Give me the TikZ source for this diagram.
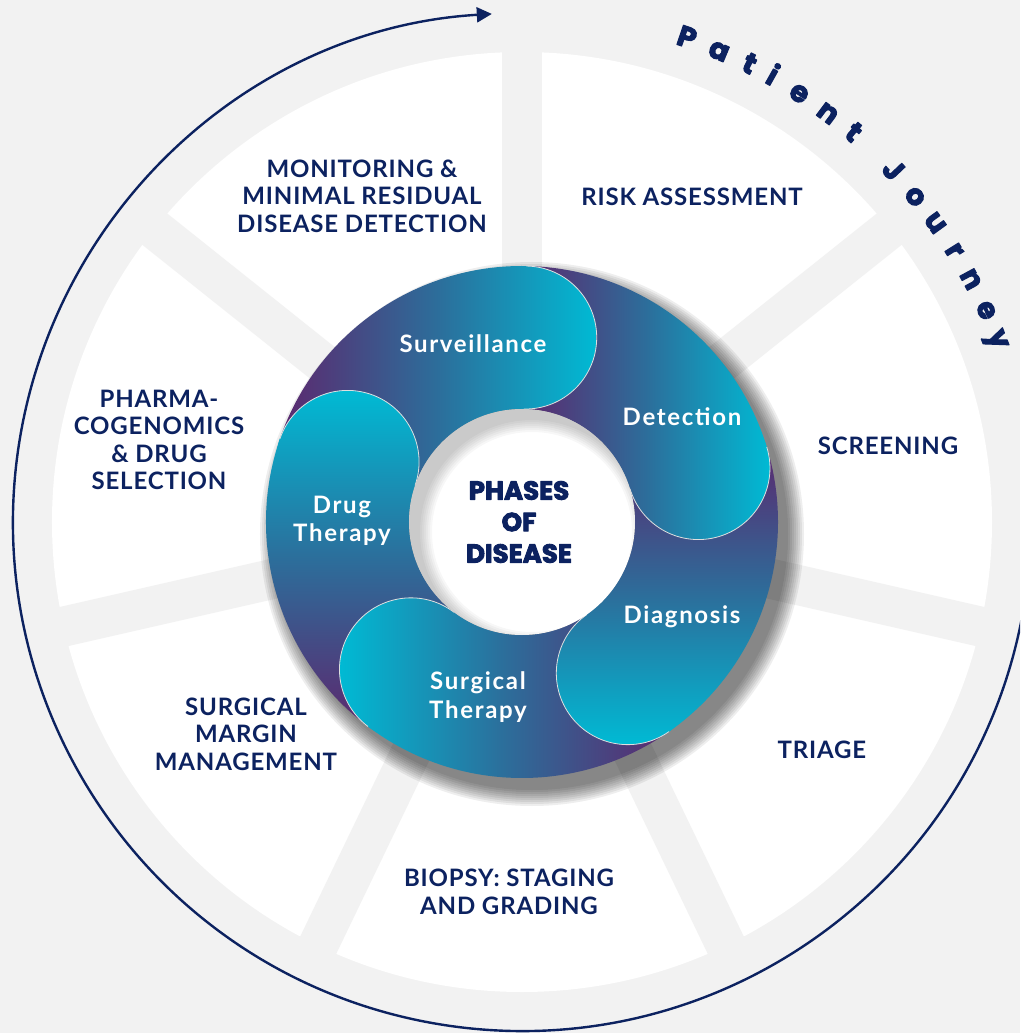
\documentclass[tikz,border=0pt]{standalone}
\usepackage{fontspec}
\setmainfont{Lato}
\newfontfamily\headfont[BoldFeatures={FakeBold=3.5}]{Poppins}
\newfontfamily\stagefont[LetterSpace=3.5]{Lato}
\newfontfamily\phasefont[LetterSpace=7]{Lato}
\usetikzlibrary{arrows.meta}
\definecolor{bgcol}{RGB}{242,242,242}
\definecolor{navy}{RGB}{12,34,96}
\definecolor{jpurple}{RGB}{92,40,110}
\definecolor{jblue}{RGB}{44,110,155}
\definecolor{jcyan}{RGB}{0,186,212}
\tikzset{
  journeylabel/.style={text=navy, font=\stagefont\bfseries\fontsize{24}{27.5}\selectfont, align=center},
  phaselabel/.style={text=white, font=\phasefont\bfseries\fontsize{24}{28.5}\selectfont, align=center},
  letter/.style={text=navy, font=\headfont\bfseries\fontsize{29}{29}\selectfont, anchor=base, inner sep=0pt},
  gradE/.style={left color=jpurple, right color=jcyan, middle color=jblue},
  gradW/.style={left color=jcyan, right color=jpurple, middle color=jblue},
  gradS/.style={top color=jpurple, bottom color=jcyan, middle color=jblue},
  gradN/.style={top color=jcyan, bottom color=jpurple, middle color=jblue}
}
\begin{document}
\begin{tikzpicture}[x=1pt, y=1pt, line join=round, line cap=round]
  \path[use as bounding box, fill=bgcol] (-522,-511) rectangle (498,522);
  \clip (-522,-511) rectangle (498,522);
  % journey wheel
  \fill[white] (0,0) circle[radius=470];
  \foreach \i in {0,...,6}
    \fill[bgcol, rotate={90-\i*360/7}] (0,-20) rectangle (480,20);
  \coordinate (jstart) at (-10:509);
  \draw[navy, line width=2.4pt, -{Triangle[length=15pt, width=15pt]}] (jstart) arc[start angle=-10, end angle=-266.6, radius=509];
  \foreach \ch/\a [count=\k] in {P/71.2, a/67.3, t/63.6, i/60.7, e/57.1, n/53.2, t/49.6, J/43.5, o/39.6, u/35.9, r/32.1, n/28.4, e/24.5, y/21.0}
    \node[letter, rotate=\a-90] (pj\k) at (\a:502) {\ch};
  % stages
  \node[journeylabel] (monitor) at (-160,326) {MONITORING \&\\MINIMAL RESIDUAL\\DISEASE DETECTION};
  \node[journeylabel] (risk) at (170,325) {RISK ASSESSMENT};
  \node[journeylabel] (screen) at (366,76) {SCREENING};
  \node[journeylabel] (triage) at (300,-228) {TRIAGE};
  \node[journeylabel] (biopsy) at (-13,-370) {BIOPSY: STAGING\\AND GRADING};
  \node[journeylabel] (margin) at (-276,-212) {SURGICAL\\MARGIN\\MANAGEMENT};
  \node[journeylabel] (pharma) at (-363,82) {PHARMA-\\COGENOMICS\\\& DRUG\\SELECTION};
  % phases
  \foreach \r in {256,258,...,272}
    \fill[black, opacity=.065] (10,-12) circle[radius=\r];
  \foreach \t/\grad in {89/gradE, 17/gradE, -55/gradS, -127/gradW, 161/gradN}
    \shade[\grad] (\t:113) -- (\t:256) arc[start angle=\t, end angle=\t+72, radius=256] -- (\t+72:113) arc[start angle=\t+72, end angle=\t, radius=113] -- cycle (\t:184.5) circle[radius=71.5];
  \foreach \t/\grad in {89/gradE, 17/gradE, -55/gradS, -127/gradW, 161/gradN}{
    \begin{scope}
      \clip (\t:184.5) circle[radius=71.5];
      \shade[\grad] (\t:113) -- (\t:256) arc[start angle=\t, end angle=\t+72, radius=256] -- (\t+72:113) arc[start angle=\t+72, end angle=\t, radius=113] -- cycle (\t:184.5) circle[radius=71.5];
    \end{scope}
    \draw[white!75!gray, line width=.8pt] (\t:256) arc[start angle=\t, end angle=\t-180, radius=71.5];
  }
  \fill[white] (0,0) circle[radius=113];
  \begin{scope}
    \clip (0,0) circle[radius=113];
    \foreach \r in {112,110,...,100}
      \fill[black, opacity=.03, even odd rule] (0,0) circle[radius=120] (10,-10) circle[radius=\r];
  \end{scope}
  \node[text=navy, font=\headfont\bfseries\fontsize{26}{31.5}\selectfont, align=center] (phases) at (-3,0) {PHASES\\OF\\DISEASE};
  \node[phaselabel] (surv) at (-49,178) {Surveillance};
  \node[phaselabel] (detect) at (160,105) {Detection};
  \node[phaselabel] (diag) at (160,-95) {Diagnosis};
  \node[phaselabel] (surg) at (-44,-175) {Surgical\\Therapy};
  \node[phaselabel] (drug) at (-180,1) {Drug\\Therapy};
\end{tikzpicture}
\end{document}
